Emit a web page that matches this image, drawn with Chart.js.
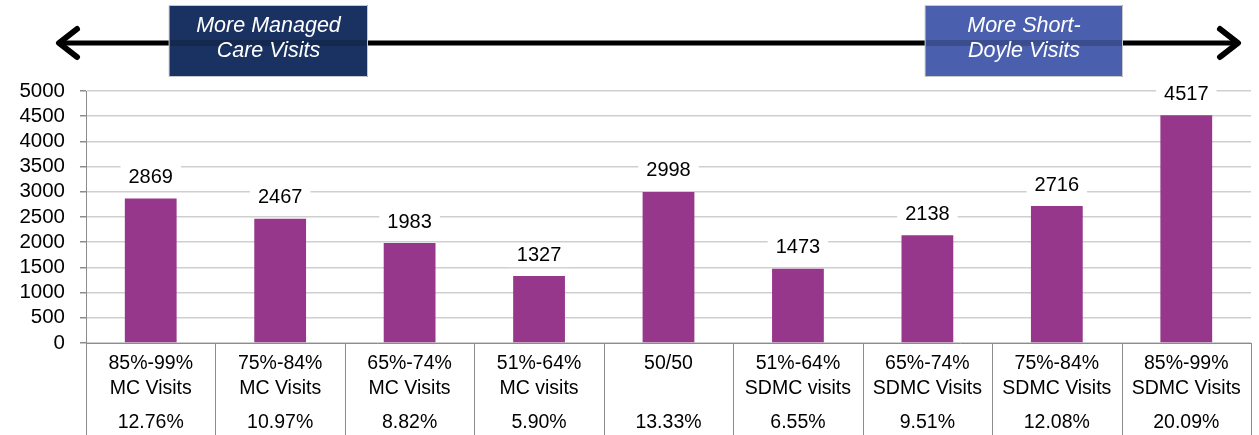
<!DOCTYPE html>
<html>
<head>
<meta charset="utf-8">
<script src="https://cdn.jsdelivr.net/npm/chart.js@4.4.1/dist/chart.umd.min.js"></script>
<style>
  html, body { margin: 0; padding: 0; background: #fff; }
</style>
</head>
<body>
<canvas id="visits-chart" width="1259" height="435"></canvas>
<script>
const categories = [
  ['85%-99%', 'MC Visits'],
  ['75%-84%', 'MC Visits'],
  ['65%-74%', 'MC Visits'],
  ['51%-64%', 'MC visits'],
  ['50/50'],
  ['51%-64%', 'SDMC visits'],
  ['65%-74%', 'SDMC Visits'],
  ['75%-84%', 'SDMC Visits'],
  ['85%-99%', 'SDMC Visits']
];
const visits = [2869, 2467, 1983, 1327, 2998, 1473, 2138, 2716, 4517];
const shares = ['12.76%', '10.97%', '8.82%', '5.90%', '13.33%', '6.55%', '9.51%', '12.08%', '20.09%'];
const yMin = 0;
const yMax = 5000;
const yStep = 500;

const FONT = '"Liberation Sans", Arial, sans-serif';

// arrow + the two boxes above the plot
const headerPlugin = {
  id: 'header',
  afterDraw(chart) {
    const ctx = chart.ctx;
    const y = 43;
    ctx.save();
    ctx.strokeStyle = '#000';
    ctx.lineCap = 'round';
    ctx.lineJoin = 'round';
    ctx.lineWidth = 5;
    ctx.beginPath();
    ctx.moveTo(60, y);
    ctx.lineTo(1236, y);
    ctx.stroke();
    ctx.lineWidth = 6;
    ctx.beginPath();
    ctx.moveTo(77, y - 14);
    ctx.lineTo(59, y);
    ctx.lineTo(77, y + 14);
    ctx.moveTo(1220, y - 14);
    ctx.lineTo(1238, y);
    ctx.lineTo(1220, y + 14);
    ctx.stroke();

    const boxes = [
      { x: 169, w: 199, fill: '#1a3261', lines: ['More Managed', 'Care Visits'] },
      { x: 925, w: 198, fill: '#4a5fae', lines: ['More Short-', 'Doyle Visits'] }
    ];
    boxes.forEach((b) => {
      ctx.fillStyle = b.fill;
      ctx.fillRect(b.x, 5, b.w, 72);
      ctx.strokeStyle = '#c8c8c8';
      ctx.lineWidth = 1;
      ctx.strokeRect(b.x + 0.5, 5.5, b.w - 1, 71);
      ctx.fillStyle = 'rgba(0,0,0,0.18)';
      ctx.fillRect(b.x + 1, y - 3, b.w - 2, 6);
      ctx.fillStyle = '#fff';
      ctx.font = 'italic 21.5px ' + FONT;
      ctx.textAlign = 'center';
      ctx.textBaseline = 'middle';
      ctx.fillText(b.lines[0], b.x + b.w / 2, 26);
      ctx.fillText(b.lines[1], b.x + b.w / 2, 51);
    });
    ctx.restore();
  }
};

// value labels over bars, on a white patch that breaks the gridlines
const valueLabels = {
  id: 'valueLabels',
  afterDatasetsDraw(chart) {
    const ctx = chart.ctx;
    const meta = chart.getDatasetMeta(0);
    ctx.save();
    ctx.font = '20px ' + FONT;
    ctx.textAlign = 'center';
    ctx.textBaseline = 'middle';
    meta.data.forEach((bar, i) => {
      const text = String(visits[i]);
      const w = ctx.measureText(text).width + 16;
      const cy = bar.y - 21;
      ctx.fillStyle = '#fff';
      ctx.fillRect(bar.x - w / 2, cy - 12, w, 24);
      ctx.fillStyle = '#000';
      ctx.fillText(text, bar.x, cy);
    });
    ctx.restore();
  }
};

// table-like divider lines and share row below the axis
const tableRows = {
  id: 'tableRows',
  afterDraw(chart) {
    const ctx = chart.ctx;
    const xScale = chart.scales.x;
    const bottom = chart.chartArea.bottom;
    const half = (xScale.getPixelForValue(1) - xScale.getPixelForValue(0)) / 2;
    ctx.save();
    ctx.strokeStyle = '#8c8c8c';
    ctx.lineWidth = 1;
    for (let i = 0; i <= categories.length; i++) {
      const x = Math.round(xScale.getPixelForValue(i) - half) + 0.5;
      ctx.beginPath();
      ctx.moveTo(x, bottom);
      ctx.lineTo(x, chart.height);
      ctx.stroke();
    }
    ctx.fillStyle = '#000';
    ctx.font = '19.5px ' + FONT;
    ctx.textAlign = 'center';
    ctx.textBaseline = 'middle';
    shares.forEach((s, i) => {
      ctx.fillText(s, xScale.getPixelForValue(i), 423);
    });
    ctx.restore();
  }
};

new Chart(document.getElementById('visits-chart'), {
  type: 'bar',
  data: {
    labels: categories,
    datasets: [
      {
        data: visits,
        backgroundColor: '#96378c',
        categoryPercentage: 1,
        barPercentage: 0.4
      }
    ]
  },
  options: {
    responsive: false,
    animation: false,
    layout: {
      padding: { top: 91, right: 8, bottom: 0, left: 0 }
    },
    plugins: {
      legend: { display: false },
      tooltip: { enabled: false }
    },
    scales: {
      x: {
        afterFit(scale) { scale.height = 92; },
        grid: { display: false, drawTicks: false },
        border: { color: '#8c8c8c', width: 1 },
        ticks: {
          color: '#000',
          padding: 8,
          maxRotation: 0,
          autoSkip: false,
          font: { family: FONT, size: 19.5, lineHeight: 1.28 }
        }
      },
      y: {
        min: yMin,
        max: yMax,
        afterFit(scale) { scale.width = 86; },
        grid: { color: '#cfcfcf', lineWidth: 1.5, tickLength: 6, tickColor: '#8c8c8c' },
        border: { color: '#8c8c8c', width: 1 },
        ticks: {
          stepSize: yStep,
          autoSkip: false,
          color: '#000',
          padding: 15,
          font: { family: FONT, size: 20.5 },
          callback: (v) => String(v)
        }
      }
    }
  },
  plugins: [headerPlugin, valueLabels, tableRows]
});
</script>
</body>
</html>
